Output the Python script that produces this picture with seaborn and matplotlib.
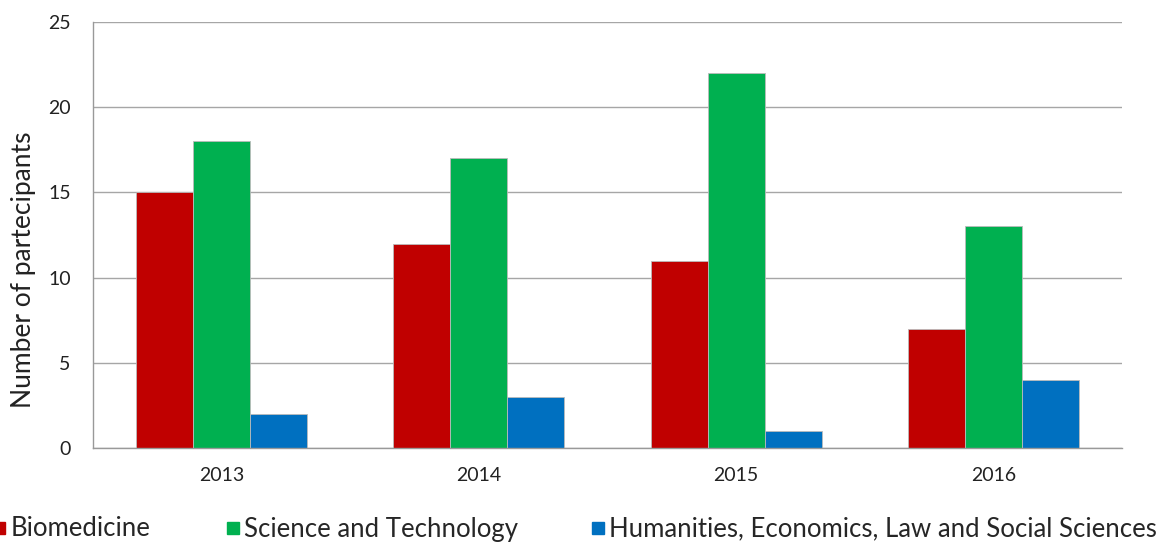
import matplotlib
matplotlib.use("Agg")
import matplotlib.pyplot as plt
from matplotlib.lines import Line2D
import seaborn as sns
import pandas as pd

years = ["2013", "2014", "2015", "2016"]
series = ["Biomedicine", "Science and Technology",
          "Humanities, Economics, Law and Social Sciences"]
biomedicine = [15, 12, 11, 7]
science_tech = [18, 17, 22, 13]
humanities = [2, 3, 1, 4]
colors = ["#C00000", "#00B050", "#0070C0"]
y_label = "Number of partecipants"
y_ticks = [0, 5, 10, 15, 20, 25]

rows = []
for name, vals in zip(series, [biomedicine, science_tech, humanities]):
    for y, v in zip(years, vals):
        rows.append({"Year": y, "Field": name, "Count": v})
df = pd.DataFrame(rows)

sns.set_theme(style="white")
plt.rcParams["font.family"] = ["Lato", "DejaVu Sans"]

fig = plt.figure(figsize=(11.57, 5.42), dpi=100)
ax = fig.add_axes([93 / 1157, 1 - 448 / 542, (1122 - 93) / 1157, (448 - 22) / 542])

sns.barplot(data=df, x="Year", y="Count", hue="Field", order=years,
            hue_order=series, palette=colors, width=0.665, gap=0,
            saturation=1, ax=ax, legend=False, linewidth=0.6,
            edgecolor="#bbbbbb")

ax.set_xlim(-0.5, 3.5)
ax.set_ylim(0, 25)
ax.set_yticks(y_ticks)
ax.set_yticklabels([str(t) for t in y_ticks], fontsize=14, color="#222222")
ax.set_xticks(range(len(years)))
ax.set_xticklabels(years, fontsize=14, color="#222222")
ax.tick_params(axis="x", which="major", length=0, pad=14)
ax.set_xticks([-0.5, 0.5, 1.5, 2.5, 3.5], minor=True)
ax.tick_params(axis="x", which="minor", length=7, color="#999999", width=1, direction="out")
ax.tick_params(axis="y", length=6, color="#999999", width=1, direction="out", pad=10)
ax.set_axisbelow(True)
ax.yaxis.grid(True, color="#a6a6a6", linewidth=1)
ax.xaxis.grid(False)
for s in ["top", "right"]:
    ax.spines[s].set_visible(False)
for s in ["left", "bottom"]:
    ax.spines[s].set_color("#999999")
    ax.spines[s].set_linewidth(1)
ax.set_xlabel("")
ax.set_ylabel(y_label, fontsize=19, color="#222222")
ax.yaxis.set_label_coords(-0.055, (448 - 270) / 426)

legend_text_x = [12, 246, 611]
for name, col, tx in zip(series, colors, legend_text_x):
    h = Line2D([], [], marker="s", linestyle="none", markersize=9,
               markerfacecolor=col, markeredgecolor=col)
    fig.legend(handles=[h], labels=[name], loc="center left",
               bbox_to_anchor=((tx - 19.5) / 1157, 1 - 529 / 542), frameon=False,
               fontsize=18.5, handlelength=0.5, handletextpad=0.2,
               borderpad=0, borderaxespad=0)

fig.savefig("out.png", dpi=100)
